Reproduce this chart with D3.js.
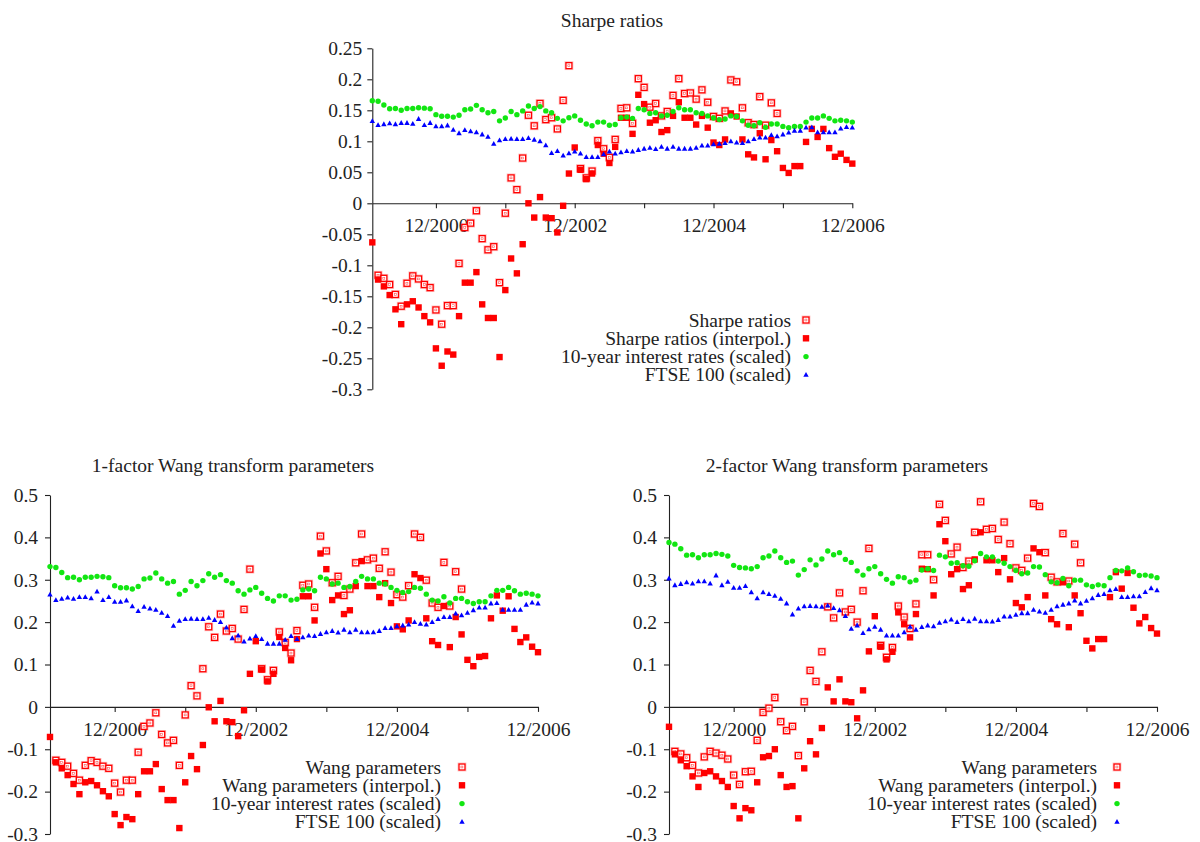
<!DOCTYPE html>
<html><head><meta charset="utf-8">
<script src="https://cdn.jsdelivr.net/npm/d3@7"></script>
<style>
body{margin:0;background:#fff}
svg{display:block}
text{font-family:"Liberation Serif","Times New Roman",serif;fill:#222}
</style>
</head><body>
<svg id="c" width="1200" height="842"></svg>
<script>
// ---- x axis (monthly index 0 = 01/2000 ... 83 = 12/2006) ----
const xTickMonths = [11, 23, 35, 47, 59, 71, 83];
const xTickLabels = ["12/2000", "", "12/2002", "", "12/2004", "", "12/2006"];

// ---- y ticks ----
const sharpeYTicks = [0.25, 0.2, 0.15, 0.1, 0.05, 0, -0.05, -0.1, -0.15, -0.2, -0.25, -0.3];
const sharpeYLabels = ["0.25", "0.2", "0.15", "0.1", "0.05", "0", "-0.05", "-0.1", "-0.15", "-0.2", "-0.25", "-0.3"];
const wangYTicks = [0.5, 0.4, 0.3, 0.2, 0.1, 0, -0.1, -0.2, -0.3];
const wangYLabels = ["0.5", "0.4", "0.3", "0.2", "0.1", "0", "-0.1", "-0.2", "-0.3"];

// ---- titles / legends ----
const titles = ["Sharpe ratios", "1-factor Wang transform parameters", "2-factor Wang transform parameters"];
const sharpeLegend = ["Sharpe ratios", "Sharpe ratios (interpol.)", "10-year interest rates (scaled)", "FTSE 100 (scaled)"];
const wangLegend = ["Wang parameters", "Wang parameters (interpol.)", "10-year interest rates (scaled)", "FTSE 100 (scaled)"];

// ---- Sharpe ratios panel ----
const sharpeObserved = [null,-0.116,-0.121,-0.131,-0.147,-0.166,-0.129,-0.117,-0.122,-0.131,-0.136,-0.172,-0.195,-0.165,-0.165,-0.097,-0.039,-0.032,-0.012,-0.057,-0.075,-0.070,-0.128,-0.016,0.041,0.022,0.073,0.142,0.125,0.161,0.135,0.138,0.120,0.166,0.222,null,0.056,0.041,0.052,0.101,0.088,0.074,0.103,0.153,0.154,0.129,0.201,0.187,0.155,0.161,0.141,0.148,0.174,0.201,0.177,0.178,0.168,0.183,0.163,0.140,0.137,0.149,0.199,0.196,0.154,0.130,0.127,0.172,0.126,0.162,0.145,null,null,null,null,null,null,null,null,null,null,null,null,null];
const sharpeInterpol = [-0.063,-0.123,-0.134,-0.148,-0.171,-0.195,-0.163,-0.158,-0.168,-0.182,-0.192,-0.234,-0.262,-0.239,-0.244,-0.182,-0.128,-0.128,-0.111,-0.163,-0.185,-0.185,-0.248,-0.140,-0.089,-0.113,-0.066,0.000,-0.023,0.010,-0.023,-0.024,-0.047,-0.004,0.048,0.090,0.054,0.039,0.048,0.094,0.080,0.065,0.091,0.138,0.138,0.112,0.175,0.160,0.130,0.134,0.115,0.118,0.141,0.163,0.138,0.138,0.127,0.141,0.122,0.098,0.094,0.103,0.145,0.140,0.103,0.079,0.074,0.113,0.071,0.102,0.084,0.057,0.049,0.060,0.060,0.099,0.120,0.107,0.120,0.089,0.075,0.080,0.070,0.064];
const sharpeRates = [0.1655,0.1645,0.1585,0.1526,0.153,0.150,0.153,0.153,0.154,0.1535,0.1526,0.143,0.1403,0.1403,0.139,0.142,0.151,0.152,0.158,0.151,0.146,0.148,0.133,0.1375,0.148,0.143,0.149,0.157,0.153,0.156,0.149,0.146,0.137,0.133,0.138,0.141,0.134,0.128,0.125,0.131,0.131,0.126,0.127,0.138,0.139,0.137,0.153,0.151,0.145,0.146,0.141,0.142,0.148,0.154,0.151,0.151,0.146,0.145,0.141,0.1375,0.135,0.136,0.141,0.140,0.133,0.126,0.125,0.130,0.1225,0.128,0.128,0.124,0.122,0.124,0.124,0.131,0.1375,0.1375,0.141,0.137,0.133,0.134,0.133,0.131];
const sharpeFtse = [0.1327,0.126,0.1275,0.129,0.1275,0.1295,0.1295,0.128,0.136,0.126,0.1295,0.124,0.124,0.1255,0.1183,0.113,0.118,0.116,0.1145,0.111,0.107,0.0957,0.1015,0.1035,0.104,0.1035,0.1035,0.105,0.1025,0.100,0.0935,0.081,0.084,0.0768,0.0805,0.0835,0.080,0.0745,0.0745,0.0745,0.079,0.0835,0.080,0.0822,0.084,0.0835,0.086,0.088,0.0895,0.0875,0.091,0.088,0.091,0.088,0.088,0.088,0.0895,0.093,0.093,0.095,0.096,0.097,0.100,0.098,0.097,0.100,0.1035,0.106,0.106,0.110,0.108,0.111,0.114,0.117,0.117,0.122,0.1225,0.1145,0.1145,0.1145,0.1145,0.1205,0.123,0.122];

// ---- 1-factor Wang panel ----
const wang1Observed = [null,-0.126,-0.131,-0.140,-0.157,-0.173,-0.138,-0.127,-0.131,-0.140,-0.145,-0.180,-0.201,-0.173,-0.173,-0.107,-0.046,-0.038,-0.014,-0.065,-0.085,-0.079,-0.138,-0.019,0.050,0.026,0.090,0.189,0.164,0.219,0.179,0.185,0.160,0.230,0.325,null,0.090,0.064,0.086,0.177,0.152,0.127,0.180,0.287,0.290,0.235,0.403,0.368,0.293,0.308,0.263,0.278,0.340,0.408,0.347,0.351,0.327,0.366,0.318,0.265,0.259,0.286,0.408,0.400,0.299,0.245,0.235,0.341,0.238,0.319,0.278,null,null,null,null,null,null,null,null,null,null,null,null,null];
const wang1Interpol = [-0.071,-0.131,-0.145,-0.161,-0.182,-0.206,-0.178,-0.175,-0.185,-0.199,-0.211,-0.253,-0.279,-0.260,-0.265,-0.206,-0.152,-0.152,-0.135,-0.194,-0.220,-0.220,-0.286,-0.178,-0.116,-0.147,-0.090,-0.001,-0.034,0.014,-0.034,-0.036,-0.069,-0.008,0.078,0.155,0.088,0.060,0.078,0.165,0.139,0.110,0.160,0.261,0.261,0.204,0.362,0.325,0.252,0.263,0.219,0.228,0.285,0.344,0.285,0.285,0.259,0.292,0.245,0.190,0.183,0.204,0.313,0.304,0.209,0.155,0.146,0.238,0.141,0.212,0.171,0.111,0.096,0.118,0.120,0.209,0.263,0.227,0.261,0.184,0.153,0.164,0.142,0.129];
const wang1Rates = [0.331,0.329,0.317,0.305,0.306,0.300,0.306,0.306,0.308,0.307,0.305,0.286,0.281,0.281,0.278,0.284,0.302,0.304,0.316,0.302,0.292,0.296,0.266,0.275,0.296,0.286,0.298,0.314,0.306,0.312,0.298,0.292,0.274,0.266,0.276,0.282,0.268,0.256,0.250,0.262,0.262,0.252,0.254,0.276,0.278,0.274,0.306,0.302,0.290,0.292,0.282,0.284,0.296,0.308,0.302,0.302,0.292,0.290,0.282,0.275,0.270,0.272,0.282,0.280,0.266,0.252,0.250,0.260,0.245,0.256,0.256,0.248,0.244,0.248,0.248,0.262,0.275,0.275,0.282,0.274,0.266,0.268,0.266,0.262];
const wang1Ftse = [0.265,0.252,0.255,0.258,0.255,0.259,0.259,0.256,0.272,0.252,0.259,0.248,0.248,0.251,0.237,0.226,0.236,0.232,0.229,0.222,0.214,0.191,0.203,0.207,0.208,0.207,0.207,0.210,0.205,0.200,0.187,0.162,0.168,0.154,0.161,0.167,0.160,0.149,0.149,0.149,0.158,0.167,0.160,0.164,0.168,0.167,0.172,0.176,0.179,0.175,0.182,0.176,0.182,0.176,0.176,0.176,0.179,0.186,0.186,0.190,0.192,0.194,0.200,0.196,0.194,0.200,0.207,0.212,0.212,0.220,0.216,0.222,0.228,0.234,0.234,0.244,0.245,0.229,0.229,0.229,0.229,0.241,0.246,0.244];

// ---- 2-factor Wang panel ----
const wang2Observed = [null,-0.105,-0.111,-0.120,-0.138,-0.156,-0.118,-0.105,-0.109,-0.114,-0.123,-0.161,-0.183,-0.153,-0.152,-0.079,-0.013,-0.003,0.022,-0.035,-0.056,-0.046,-0.115,0.012,0.086,0.060,0.130,0.236,0.210,0.269,0.224,0.230,0.200,0.274,0.374,null,0.145,0.117,0.140,0.238,0.212,0.185,0.243,0.359,0.359,0.300,0.478,0.440,0.361,0.377,0.329,0.344,0.412,0.484,0.419,0.421,0.395,0.436,0.385,0.328,0.322,0.351,0.480,0.473,0.364,0.306,0.295,0.409,0.297,0.384,0.340,null,null,null,null,null,null,null,null,null,null,null,null,null];
const wang2Interpol = [-0.047,-0.112,-0.126,-0.140,-0.164,-0.189,-0.156,-0.152,-0.164,-0.175,-0.189,-0.234,-0.263,-0.239,-0.244,-0.178,-0.119,-0.116,-0.100,-0.161,-0.189,-0.187,-0.263,-0.145,-0.081,-0.112,-0.050,0.046,0.013,0.065,0.013,0.011,-0.027,0.039,0.131,0.214,0.142,0.112,0.130,0.223,0.195,0.164,0.219,0.326,0.325,0.263,0.431,0.391,0.313,0.325,0.278,0.287,0.348,0.412,0.346,0.346,0.318,0.351,0.301,0.245,0.235,0.259,0.374,0.365,0.263,0.207,0.195,0.294,0.188,0.263,0.221,0.156,0.138,0.160,0.160,0.259,0.318,0.279,0.316,0.234,0.197,0.212,0.186,0.173];
const wang2Rates = [0.388,0.384,0.373,0.358,0.359,0.352,0.359,0.359,0.362,0.360,0.356,0.334,0.329,0.328,0.326,0.331,0.352,0.356,0.368,0.352,0.341,0.344,0.311,0.324,0.347,0.335,0.349,0.368,0.359,0.364,0.348,0.341,0.321,0.311,0.326,0.331,0.314,0.301,0.292,0.307,0.305,0.295,0.299,0.323,0.326,0.322,0.358,0.354,0.339,0.340,0.333,0.332,0.345,0.362,0.354,0.354,0.344,0.339,0.331,0.322,0.314,0.316,0.331,0.330,0.312,0.295,0.293,0.303,0.286,0.299,0.299,0.288,0.284,0.288,0.286,0.305,0.322,0.321,0.328,0.319,0.310,0.311,0.309,0.305];
const wang2Ftse = [0.303,0.287,0.290,0.294,0.291,0.296,0.296,0.291,0.310,0.287,0.295,0.281,0.281,0.285,0.270,0.256,0.270,0.266,0.262,0.255,0.244,0.218,0.232,0.237,0.238,0.237,0.236,0.239,0.233,0.228,0.214,0.184,0.192,0.174,0.183,0.189,0.182,0.168,0.168,0.168,0.176,0.189,0.182,0.188,0.192,0.190,0.198,0.202,0.206,0.200,0.207,0.202,0.208,0.202,0.202,0.201,0.205,0.213,0.213,0.217,0.221,0.221,0.229,0.225,0.222,0.229,0.237,0.241,0.244,0.251,0.244,0.250,0.256,0.264,0.266,0.275,0.278,0.259,0.259,0.261,0.261,0.271,0.280,0.275];

// ---------------------------------------------------------------
const svg = d3.select("#c");
const FS = 19.5;
const RED = "#ff0000", GREEN = "#12e612", BLUE = "#0000ff", AX = "#222";

function drawOpen(g, cx, cy) {
  const m = g.append("g").attr("transform", `translate(${cx},${cy})`);
  m.append("rect").attr("x", -3.9).attr("y", -3.9).attr("width", 7.8).attr("height", 7.8)
    .attr("fill", "none").attr("stroke", "rgba(255,70,70,0.35)").attr("stroke-width", 1);
  m.append("rect").attr("x", -3).attr("y", -3).attr("width", 6).attr("height", 6)
    .attr("fill", "#fff").attr("stroke", RED).attr("stroke-width", 1.3);
  m.append("rect").attr("x", -1.1).attr("y", -0.9).attr("width", 2).attr("height", 1.8)
    .attr("fill", "none").attr("stroke", "rgba(255,40,40,0.8)").attr("stroke-width", 0.6);
}
function drawFilled(g, cx, cy) {
  g.append("rect").attr("x", cx - 3.2).attr("y", cy - 3.2).attr("width", 6.4).attr("height", 6.4).attr("fill", RED);
}
function drawDot(g, cx, cy) {
  g.append("circle").attr("cx", cx).attr("cy", cy).attr("r", 2.7).attr("fill", GREEN);
}
function drawTri(g, cx, cy) {
  g.append("path").attr("d", `M${cx},${cy - 2.9}L${cx + 2.7},${cy + 1.9}L${cx - 2.7},${cy + 1.9}Z`).attr("fill", BLUE);
}
const markers = [drawOpen, drawFilled, drawDot, drawTri];

function panel(p) {
  const g = svg.append("g");
  const x = d3.scaleLinear().domain([0, 83]).range(p.xr);
  const y = d3.scaleLinear().domain(p.yd).range(p.yr);

  // title
  g.append("text").attr("x", p.title[1]).attr("y", p.title[2]).attr("text-anchor", "middle")
    .attr("font-size", FS).text(p.title[0]);

  // y axis
  const ya = g.append("g").attr("transform", `translate(${p.xr[0]},0)`)
    .call(d3.axisLeft(y).tickValues(p.yTicks).tickFormat((d, i) => p.yLabels[i])
      .tickSize(5).tickSizeOuter(0).tickPadding(p.ypad));
  // x axis at zero
  const xa = g.append("g").attr("transform", `translate(0,${y(0)})`)
    .call(d3.axisBottom(x).tickValues(xTickMonths).tickFormat((d, i) => xTickLabels[i])
      .tickSize(5).tickSizeOuter(0).tickPadding(10));
  [ya, xa].forEach(a => {
    a.selectAll("path.domain").attr("stroke", AX).attr("stroke-width", 1.1);
    a.selectAll(".tick line").attr("stroke", AX).attr("stroke-width", 1.1);
    a.selectAll("text").attr("font-size", FS).attr("font-family", "'Liberation Serif','Times New Roman',serif").attr("fill", AX);
  });

  // data
  const pts = g.append("g");
  p.series.forEach((s, k) => {
    s.forEach((v, i) => { if (v !== null) markers[k](pts, x(i), y(v)); });
  });

  // legend
  const lg = g.append("g");
  p.legend.forEach((t, k) => {
    const yy = p.leg.y0 + k * p.leg.dy;
    lg.append("text").attr("x", p.leg.tx).attr("y", yy + 6.5).attr("text-anchor", "end")
      .attr("font-size", FS).text(t);
    markers[k](lg, p.leg.mx, yy);
  });
}

panel({
  xr: [372.3, 852.3], yd: [-0.3, 0.25], yr: [389.3, 48.3],
  yTicks: sharpeYTicks, yLabels: sharpeYLabels, ypad: 5,
  title: [titles[0], 612, 27],
  series: [sharpeObserved, sharpeInterpol, sharpeRates, sharpeFtse],
  legend: sharpeLegend, leg: { tx: 791, mx: 806, y0: 320, dy: 18.3 }
});
panel({
  xr: [50, 538], yd: [-0.3, 0.5], yr: [834, 495],
  yTicks: wangYTicks, yLabels: wangYLabels, ypad: 7,
  title: [titles[1], 233, 472],
  series: [wang1Observed, wang1Interpol, wang1Rates, wang1Ftse],
  legend: wangLegend, leg: { tx: 441, mx: 462, y0: 767, dy: 18.3 }
});
panel({
  xr: [669, 1157], yd: [-0.3, 0.5], yr: [834, 495],
  yTicks: wangYTicks, yLabels: wangYLabels, ypad: 7,
  title: [titles[2], 847, 472],
  series: [wang2Observed, wang2Interpol, wang2Rates, wang2Ftse],
  legend: wangLegend, leg: { tx: 1097, mx: 1117, y0: 767, dy: 18.3 }
});
</script>
</body></html>
